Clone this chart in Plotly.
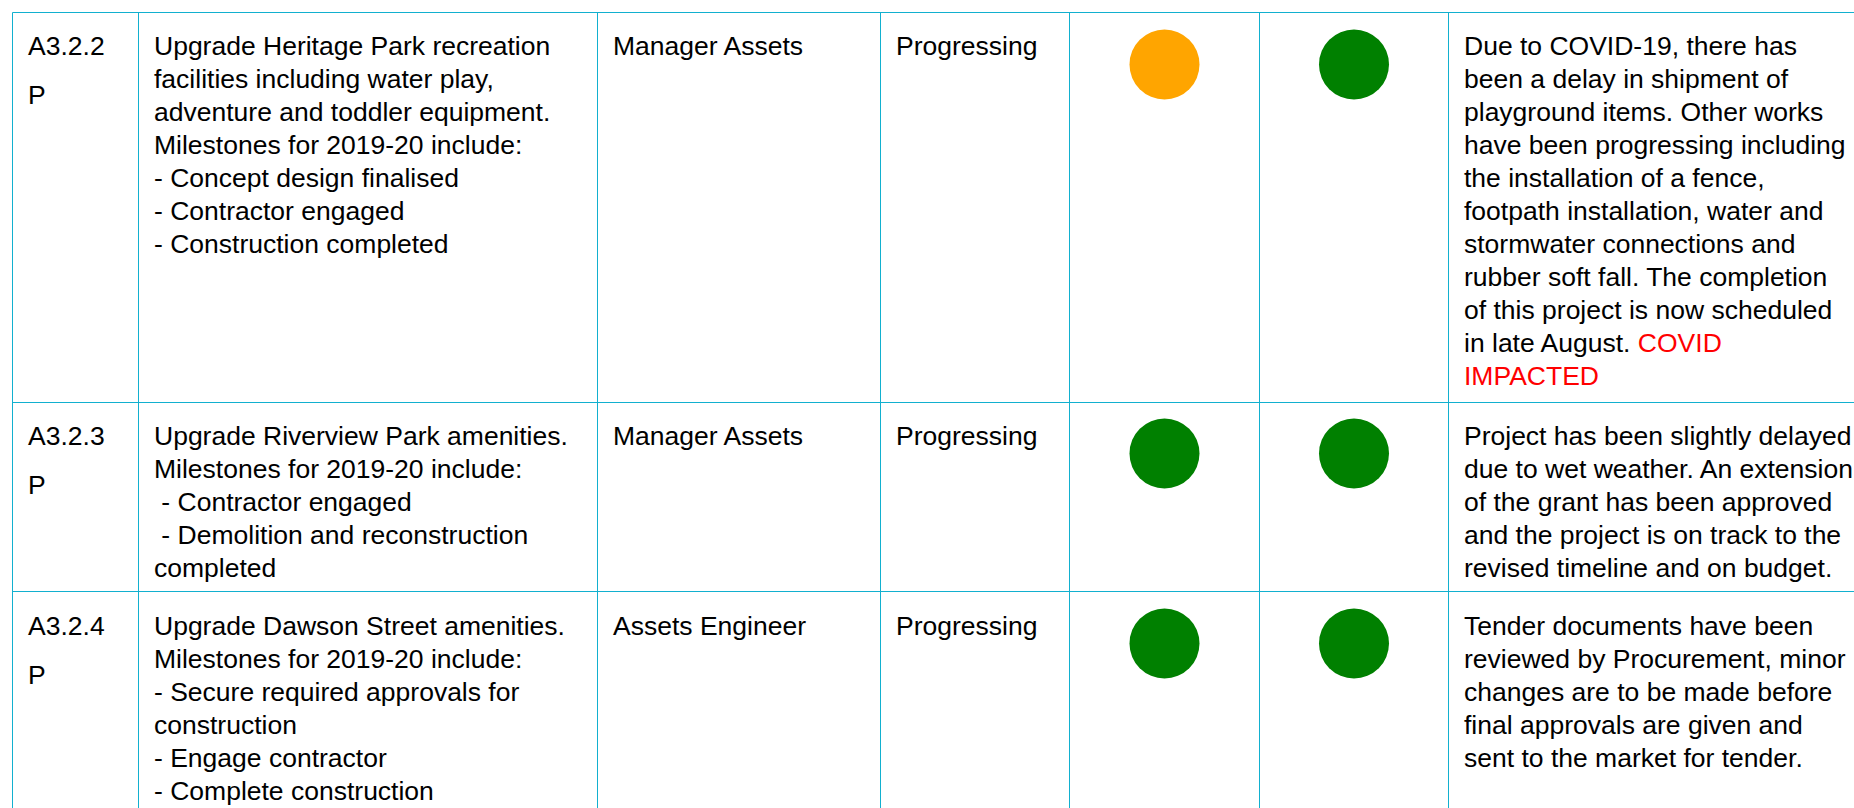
import plotly.graph_objects as go

# ---------------- data ----------------
action_ids = ["A3.2.2", "A3.2.3", "A3.2.4"]
action_type = ["P", "P", "P"]
actions = [
    ["Upgrade Heritage Park recreation",
     "facilities including water play,",
     "adventure and toddler equipment.",
     "Milestones for 2019-20 include:",
     "- Concept design finalised",
     "- Contractor engaged",
     "- Construction completed"],
    ["Upgrade Riverview Park amenities.",
     "Milestones for 2019-20 include:",
     "\u00a0- Contractor engaged",
     "\u00a0- Demolition and reconstruction",
     "completed"],
    ["Upgrade Dawson Street amenities.",
     "Milestones for 2019-20 include:",
     "- Secure required approvals for",
     "construction",
     "- Engage contractor",
     "- Complete construction"],
]
responsible = ["Manager Assets", "Manager Assets", "Assets Engineer"]
status = ["Progressing", "Progressing", "Progressing"]
rating_time = ["amber", "green", "green"]
rating_budget = ["green", "green", "green"]
comments = [
    ["Due to COVID-19, there has",
     "been a delay in shipment of",
     "playground items. Other works",
     "have been progressing including",
     "the installation of a fence,",
     "footpath installation, water and",
     "stormwater connections and",
     "rubber soft fall. The completion",
     "of this project is now scheduled",
     "in late August. <span style='color:#FF0000'>COVID</span>",
     "<span style='color:#FF0000'>IMPACTED</span>"],
    ["Project has been slightly delayed",
     "due to wet weather. An extension",
     "of the grant has been approved",
     "and the project is on track to the",
     "revised timeline and on budget."],
    ["Tender documents have been",
     "reviewed by Procurement, minor",
     "changes are to be made before",
     "final approvals are given and",
     "sent to the market for tender."],
]
rating_colors = {"amber": "#FFA500", "green": "#008000"}

# ---------------- layout ----------------
W, H = 1854, 808
col_lines = [12.5, 138.5, 597.5, 880.5, 1069.5, 1259.5, 1448.5]
row_tops = [12.5, 402.5, 591.5]
first_base = [54, 443.5, 633.5]
grid_color = "#12B0CF"
FS = 26.5
LINE_H = 33
P_GAP = 49
ASCENT = 0.905 * FS
PAD = 14.5

fig = go.Figure()

shapes = []
for x in col_lines:
    shapes.append(dict(type="line", xref="x", yref="y", x0=x, x1=x,
                       y0=row_tops[0], y1=H + 5,
                       line=dict(color=grid_color, width=1)))
for y in row_tops:
    shapes.append(dict(type="line", xref="x", yref="y", x0=col_lines[0], x1=W + 5,
                       y0=y, y1=y, line=dict(color=grid_color, width=1)))

annotations = []


def add_line(x, baseline, text):
    annotations.append(dict(
        x=x, y=baseline - ASCENT, xref="x", yref="y", text=text,
        showarrow=False, xanchor="left", yanchor="top", align="left",
        borderpad=0, font=dict(family="Liberation Sans, Arial, sans-serif",
                               size=FS, color="#000000")))


for r in range(len(action_ids)):
    base = first_base[r]
    add_line(col_lines[0] + PAD, base, action_ids[r])
    add_line(col_lines[0] + PAD, base + P_GAP, action_type[r])
    for i, t in enumerate(actions[r]):
        add_line(col_lines[1] + PAD, base + i * LINE_H, t)
    add_line(col_lines[2] + PAD, base, responsible[r])
    add_line(col_lines[3] + PAD, base, status[r])
    for i, t in enumerate(comments[r]):
        add_line(col_lines[6] + PAD, base + i * LINE_H, t)

# rating circles
cx1 = (col_lines[4] + col_lines[5]) / 2
cx2 = (col_lines[5] + col_lines[6]) / 2
cy = [t + 52 for t in [12.5, 401.5, 591.5]]
fig.add_trace(go.Scatter(
    x=[cx1] * len(cy), y=cy, mode="markers", hoverinfo="skip",
    marker=dict(size=70, color=[rating_colors[c] for c in rating_time],
                line=dict(width=0))))
fig.add_trace(go.Scatter(
    x=[cx2] * len(cy), y=cy, mode="markers", hoverinfo="skip",
    marker=dict(size=70, color=[rating_colors[c] for c in rating_budget],
                line=dict(width=0))))

fig.update_layout(
    width=W, height=H, margin=dict(l=0, r=0, t=0, b=0),
    paper_bgcolor="white", plot_bgcolor="white", showlegend=False,
    xaxis=dict(range=[0, W], visible=False, fixedrange=True),
    yaxis=dict(range=[H, 0], visible=False, fixedrange=True),
    shapes=shapes, annotations=annotations,
)

fig.write_html("out.html", config={"displayModeBar": False},
               post_script="document.body.style.margin='0';document.body.style.overflow='hidden';")
